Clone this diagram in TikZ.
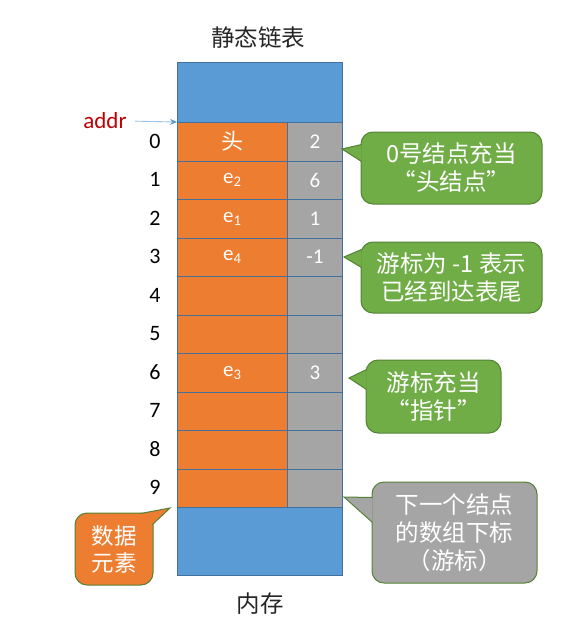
\documentclass[tikz,border=0pt]{standalone}
\usepackage{fontspec}
\setmainfont{Carlito}
\newfontfamily\cjk{Noto Sans CJK SC}
\usetikzlibrary{calc,arrows.meta}
\definecolor{mblue}{HTML}{5B9BD5}
\definecolor{bord}{HTML}{41719C}
\definecolor{morange}{HTML}{ED7D31}
\definecolor{mgray}{HTML}{A5A5A5}
\definecolor{mgreen}{HTML}{70AD47}
\definecolor{gbord}{HTML}{548235}
\definecolor{ared}{HTML}{C00000}
\definecolor{lblue}{HTML}{9DC3E6}
\begin{document}
\begin{tikzpicture}[x=1pt,y=-1pt,
  blk/.style={draw=bord,line width=0.8pt,anchor=north west,inner sep=0pt},
  datacell/.style={blk,fill=morange,minimum width=110pt,minimum height=38.5pt,text=white,font=\fontsize{21}{24}\selectfont},
  ptrcell/.style={blk,fill=mgray,minimum width=55pt,minimum height=38.5pt,text=white,font=\fontsize{21}{24}\selectfont},
  rowlab/.style={font=\fontsize{22}{24}\selectfont,text=black},
  bubble/.style={draw=gbord,line width=1pt,rounded corners=12pt,text=white,align=center,inner sep=0pt,font=\cjk\fontsize{23.5}{28}\selectfont},
  caption/.style={font=\cjk\fontsize{23.5}{26}\selectfont,text=black!85}]
\useasboundingbox (0,0) rectangle (583,626);

% memory block
\node[blk,fill=mblue,minimum width=165pt,minimum height=60pt] (top) at (177,62) {};
\foreach \i/\d/\p in {0/{\cjk\fontsize{22}{24}\selectfont 头}/2,1/e\textsubscript{2}/6,2/e\textsubscript{1}/1,3/e\textsubscript{4}/-1,4//,5//,6/e\textsubscript{3}/3,7//,8//,9//}{
  \node[datacell] (d\i) at (177,{122+38.5*\i}) {\d};
  \node[ptrcell] (p\i) at (287,{122+38.5*\i}) {\p};
  \node[rowlab] (l\i) at (155,{141.25+38.5*\i}) {\i};
}
\node[blk,fill=mblue,minimum width=165pt,minimum height=68pt] (bot) at (177,507) {};

\node[caption] (title) at (258,38) {静态链表};
\node[caption] (mem) at (260,604) {内存};

% addr
\node[text=ared,font=\fontsize{23}{24}\selectfont,inner sep=0pt] (addr) at (105,121) {addr};
\draw[lblue,line width=0.9pt,-{Stealth[length=7pt,width=6pt,color=mblue]},shorten <=8pt] (addr.east) -- (d0.north west);

% callouts
\node[bubble,fill=mgreen,minimum width=181pt,minimum height=72pt] (c1) at (451.5,168) {0号结点充当\\“头结点”};
\coordinate (t1) at (342,149);
\fill[mgreen] ($(c1.north west)+(1,13)$) -- (t1) -- ($(c1.north west)+(1,30)$) -- cycle;
\draw[gbord,line width=1pt] ($(c1.north west)+(1,13)$) -- (t1) -- ($(c1.north west)+(1,30)$);

\node[bubble,fill=mgreen,minimum width=181pt,minimum height=71pt] (c2) at (451.5,277.5) {游标为 -1 表示\\已经到达表尾};
\coordinate (t2) at (344,257);
\fill[mgreen] ($(c2.north west)+(1,8)$) -- (t2) -- ($(c2.north west)+(1,26)$) -- cycle;
\draw[gbord,line width=1pt] ($(c2.north west)+(1,8)$) -- (t2) -- ($(c2.north west)+(1,26)$);

\node[bubble,fill=mgreen,minimum width=135pt,minimum height=73pt] (c3) at (433.5,396.5) {游标充当\\“指针”};
\coordinate (t3) at (349,378);
\fill[mgreen] ($(c3.north west)+(1,10)$) -- (t3) -- ($(c3.north west)+(1,30)$) -- cycle;
\draw[gbord,line width=1pt] ($(c3.north west)+(1,10)$) -- (t3) -- ($(c3.north west)+(1,30)$);

\node[bubble,fill=mgray,minimum width=165pt,minimum height=101pt] (c4) at (454.5,532.5) {下一个结点\\的数组下标\\（游标）};
\coordinate (t4) at (344,497);
\fill[mgray] ($(c4.north west)+(1,16)$) -- (t4) -- ($(c4.north west)+(1,41)$) -- cycle;
\draw[gbord,line width=1pt] ($(c4.north west)+(1,16)$) -- (t4) -- ($(c4.north west)+(1,41)$);

\node[bubble,fill=morange,minimum width=78pt,minimum height=72pt,font=\cjk\fontsize{22.5}{27}\selectfont] (c5) at (114,549) {数据\\元素};
\coordinate (t5) at (170,508);
\fill[morange] ($(c5.north east)+(-13,1)$) -- (t5) -- ($(c5.north east)+(-1,12)$) -- cycle;
\draw[gbord,line width=1pt] ($(c5.north east)+(-13,1)$) -- (t5) -- ($(c5.north east)+(-1,12)$);
\end{tikzpicture}
\end{document}
